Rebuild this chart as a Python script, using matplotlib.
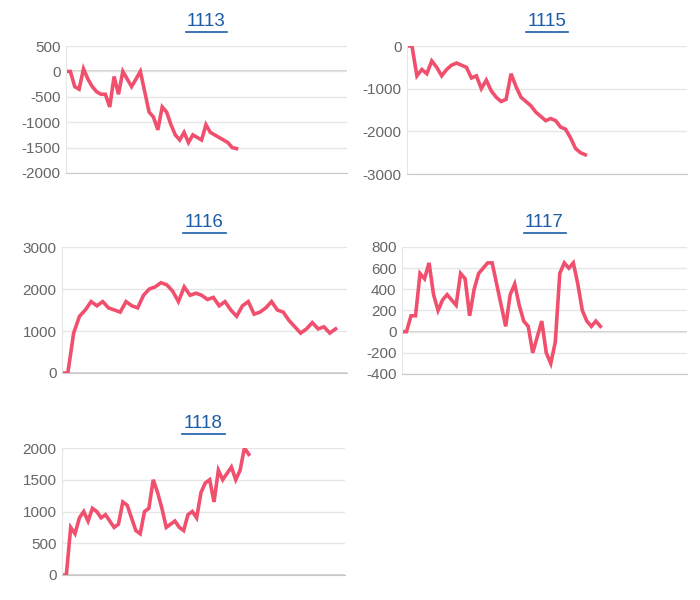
import matplotlib
matplotlib.use("Agg")
import matplotlib.pyplot as plt

plt.rcParams["axes.unicode_minus"] = False
plt.rcParams["font.family"] = ["Liberation Sans", "DejaVu Sans"]

# data
titles = ["1113", "1115", "1116", "1117", "1118"]
v1113 = [0, 0, -300, -350, 50, -150, -300, -400, -450, -450, -700, -100, -450, 0, -150, -300,
         -150, 0, -400, -800, -900, -1150, -700, -800, -1050, -1250, -1350, -1200, -1400, -1250,
         -1300, -1350, -1050, -1200, -1250, -1300, -1350, -1400, -1500, -1520]
v1115 = [0, 0, -700, -550, -650, -350, -500, -700, -550, -450, -400, -450, -500, -750, -700,
         -1000, -800, -1050, -1200, -1300, -1250, -650, -950, -1200, -1300, -1400, -1550, -1650,
         -1750, -1700, -1750, -1900, -1950, -2150, -2400, -2500, -2550]
v1116 = [0, 0, 950, 1350, 1500, 1700, 1600, 1700, 1550, 1500, 1450, 1700, 1600, 1550, 1850, 2000,
         2050, 2150, 2100, 1950, 1700, 2050, 1850, 1900, 1850, 1750, 1800, 1600, 1700, 1500, 1350,
         1600, 1700, 1400, 1450, 1550, 1700, 1500, 1450, 1250, 1100, 950, 1050, 1200, 1050, 1100,
         950, 1050]
v1117 = [0, 0, 150, 150, 550, 500, 650, 350, 200, 300, 350, 300, 250, 550, 500, 150, 400, 550, 600,
         650, 650, 450, 250, 50, 350, 450, 250, 100, 50, -200, -50, 100, -200, -300, -100, 550, 650,
         600, 650, 450, 200, 100, 50, 100, 50]
v1118 = [0, 0, 750, 650, 900, 1000, 850, 1050, 1000, 900, 950, 850, 750, 800, 1150, 1100, 900, 700,
         650, 1000, 1050, 1500, 1300, 1050, 750, 800, 850, 750, 700, 950, 1000, 900, 1300, 1450, 1500,
         1150, 1650, 1500, 1600, 1700, 1500, 1650, 2000, 1900]
series = [v1113, v1115, v1116, v1117, v1118]
y_ticks = [[500, 0, -500, -1000, -1500, -2000],
           [0, -1000, -2000, -3000],
           [3000, 2000, 1000, 0],
           [800, 600, 400, 200, 0, -200, -400],
           [2000, 1500, 1000, 500, 0]]
x_fraction = [0.607, 0.637, 0.96, 0.696, 0.66]

# axes boxes in pixels: left, right, top, bottom
boxes = [(66, 347, 46, 173), (407, 687, 46, 174), (62, 347, 247, 373),
         (402, 687, 247, 374), (62, 345, 448, 575)]

W, H = 700, 600
fig = plt.figure(figsize=(W / 100, H / 100), dpi=100)
line_color = "#f0506e"
title_color = "#1a5ca8"

for title, vals, ticks, frac, (l, r, t, b) in zip(titles, series, y_ticks, x_fraction, boxes):
    ax = fig.add_axes([l / W, 1 - b / H, (r - l) / W, (b - t) / H])
    ax.plot(range(len(vals)), vals, color=line_color, lw=2.6, solid_joinstyle="miter")
    ax.set_xlim(0, (len(vals) - 1) / frac)
    ax.set_ylim(min(ticks), max(ticks))
    ax.set_yticks(ticks)
    ax.set_xticks([])
    ax.grid(axis="y", color="#e6e6e6", lw=1)
    ax.axhline(0, color="#c8c8c8", lw=1.2, zorder=0)
    for s in ["top", "right"]:
        ax.spines[s].set_visible(False)
    ax.spines["left"].set_color("#e6e6e6")
    ax.spines["bottom"].set_color("#c8c8c8")
    ax.tick_params(axis="y", length=0, labelsize=11, labelcolor="#666666", pad=4)
    ax.set_axisbelow(True)
    cx = (l + r) / 2 / W
    fig.text(cx, 1 - (t - 24) / H, title, ha="center", va="center", fontsize=13.5,
             color=title_color)
    # underline
    fig.add_artist(plt.Line2D([cx - 0.03, cx + 0.03], [1 - (t - 14) / H] * 2,
                              color=title_color, lw=1.2))

fig.savefig("out.png", dpi=100)
